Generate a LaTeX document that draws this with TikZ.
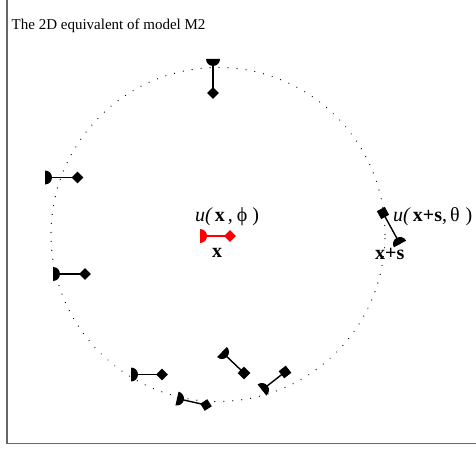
\documentclass[tikz,border=0pt]{standalone}
\usepackage{fontspec}
\setmainfont{Liberation Serif}
\usetikzlibrary{calc,shapes.geometric}
\tikzset{
  frame/.style={draw=black!60, line width=1.5pt},
  ring/.style={draw=black, line width=1.3pt, dash pattern=on 0.01pt off 9pt, line cap=round},
  tipd/.style={diamond, inner sep=0pt, minimum size=12pt},
  tips/.style={rectangle, inner sep=0pt, minimum size=9pt},
  stick/.style={line width=1.4pt},
  lbl/.style={font=\fontsize{20}{24}\selectfont, inner sep=0pt},
}
\newcommand\mglyph[5]{%
  \coordinate (#1c) at (#2);
  \coordinate (#1p) at (#3);
  \fill[#5] let \p1=($(#1p)-(#1c)$), \n1={atan2(\y1,\x1)} in
    ($(#1c)+(\n1-90:7pt)$) arc[start angle=\n1-90, end angle=\n1+90, radius=7pt] -- cycle
    node[#4, rotate=\n1, fill=#5] (#1e) at (#1p) {};
  \draw[stick, draw=#5] (#1c) -- (#1e.center);
}
\begin{document}
\begin{tikzpicture}[x=1pt,y=-1pt]
\useasboundingbox (0,0) rectangle (476,449);
\draw[frame] (7,0) -- (7,443.5) -- (476,443.5);
\node[anchor=base west, font=\fontsize{15}{18}\selectfont, inner sep=0pt] (title) at (11.5,30) {The 2D equivalent of model M2};
\coordinate (ctr) at (218,234.5);
\draw[ring] (ctr) circle[radius=167pt];
\mglyph{g1}{213,59}{213,93}{tipd}{black}
\mglyph{g2}{45,177.5}{77.5,177.5}{tipd}{black}
\mglyph{g3}{53,274}{85,274}{tipd}{black}
\mglyph{g4}{200,236}{230,236}{tipd}{red}
\mglyph{g5}{400,244}{383,213}{tips}{black}
\mglyph{g6}{131,374.5}{162,374.5}{tipd}{black}
\mglyph{g7}{177,398.5}{206,405}{tipd}{black}
\mglyph{g8}{222,352}{244,373}{tips}{black}
\mglyph{g9}{262,390}{285,372}{tips}{black}
\node[lbl, anchor=base west] (l1) at (195,221) {\textit{u(}\kern2pt\textbf{x}\kern3pt,\kern4ptϕ\kern5pt)};
\node[lbl, anchor=base west] (l2) at (212,257.5) {\textbf{x}};
\node[lbl, anchor=base west] (l3) at (393,221.5) {\textit{u(}\kern2pt\textbf{x+s},\kern3ptθ\kern6pt)};
\node[lbl, anchor=base west] (l4) at (375,259) {\textbf{x+s}};
\end{tikzpicture}
\end{document}
